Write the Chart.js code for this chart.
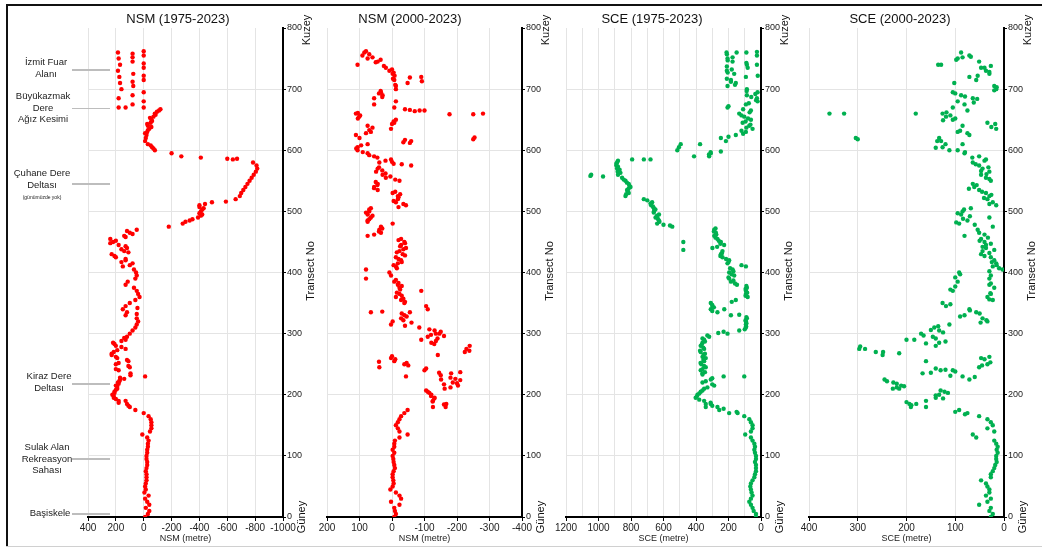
<!DOCTYPE html>
<html>
<head>
<meta charset="utf-8">
<script src="https://cdn.jsdelivr.net/npm/chart.js@4.4.0/dist/chart.umd.min.js"></script>
<style>
body { margin: 0; background: #fff; font-family: "Liberation Sans", Arial, sans-serif; }
#wrap { position: relative; width: 1042px; height: 548px; overflow: hidden; }
canvas { position: absolute; top: 0; }
.ttl { position: absolute; top: 11px; font-size: 13px; line-height: 15px; color: #111; transform: translateX(-50%); white-space: nowrap; }
.rot { position: absolute; font-size: 11px; color: #111; white-space: nowrap; transform: translate(-50%, -50%) rotate(-90deg); }
.note { position: absolute; width: 80px; text-align: center; font-size: 9.5px; line-height: 11.5px; color: #222; }
.small { font-size: 5px; line-height: 6px; }
.lead { position: absolute; left: 72px; width: 38px; height: 1.5px; background: #bdbdbd; }
.frame-top { position: absolute; left: 6px; top: 4px; width: 1040px; height: 2px; background: #111; }
.frame-left { position: absolute; left: 6px; top: 4px; width: 2px; height: 543px; background: #111; }
.frame-bottom { position: absolute; left: 6px; top: 546px; width: 1040px; height: 1px; background: #d0d0d0; }
</style>
</head>
<body>
<div id="wrap">
  <div class="frame-top"></div>
  <div class="frame-left"></div>
  <div class="frame-bottom"></div>

  <canvas id="c1" width="265" height="548" style="left:58px"></canvas>
  <canvas id="c2" width="265" height="548" style="left:297px"></canvas>
  <canvas id="c3" width="265" height="548" style="left:536px"></canvas>
  <canvas id="c4" width="265" height="548" style="left:779px"></canvas>

  <div class="ttl" style="left:178px">NSM (1975-2023)</div>
  <div class="ttl" style="left:410px">NSM (2000-2023)</div>
  <div class="ttl" style="left:652px">SCE (1975-2023)</div>
  <div class="ttl" style="left:900px">SCE (2000-2023)</div>

  <!-- sol taraftaki yer adları -->
  <div class="note" style="left:6px;top:56px">İzmit Fuar<br>Alanı</div>
  <div class="lead" style="top:69px"></div>
  <div class="note" style="left:3px;top:90px">Büyükazmak<br>Dere<br>Ağız Kesimi</div>
  <div class="lead" style="top:107.5px"></div>
  <div class="note" style="left:2px;top:167px">Çuhane Dere<br>Deltası<br><span class="small">(günümüzde yok)</span></div>
  <div class="lead" style="top:183px"></div>
  <div class="note" style="left:9px;top:370px">Kiraz Dere<br>Deltası</div>
  <div class="lead" style="top:383px"></div>
  <div class="note" style="left:7px;top:441px">Sulak Alan<br>Rekreasyon<br>Sahası</div>
  <div class="lead" style="top:458px"></div>
  <div class="note" style="left:10px;top:507px">Başiskele</div>
  <div class="lead" style="top:513px"></div>

  <div id="sideLabels"></div>
</div>

<script>
// transect numaraları (güneyden kuzeye)
var transects = [0,5,10,15,20,25,30,35,40,45,
  50,55,60,65,70,75,80,85,90,95,
  100,105,110,115,120,125,130,135,140,145,
  150,155,160,165,170,175,180,185,190,195,
  200,205,210,215,220,225,230,235,240,245,
  250,255,260,265,270,275,280,285,290,295,
  300,305,310,315,320,325,330,335,340,345,
  350,355,360,365,370,375,380,385,390,395,
  400,405,410,415,420,425,430,435,440,445,
  450,455,460,465,470,475,480,485,490,495,
  500,505,510,515,520,525,530,535,540,545,
  550,555,560,565,570,575,580,585,590,595,
  600,605,610,615,620,625,630,635,640,645,
  650,655,660,665,670,675,680,685,690,695,
  700,705,710,715,720,725,730,735,740,745,
  750,755,760];

// NSM 1975-2023 (metre)
var nsm1975 = [-10,-30,-40,-15,-40,-25,-10,-35,-5,-15,
  -10,-15,-20,-20,-20,-15,-20,-25,-25,-20,
  -20,-25,-25,-30,-30,-35,-25,10,-45,-55,
  -55,-55,-50,-35,0,60,100,120,180,215,
  225,210,190,200,185,170,-10,95,180,100,
  200,110,190,230,215,130,200,220,130,120,
  100,80,60,50,40,50,130,120,150,130,
  100,60,30,40,50,70,130,115,60,50,
  55,70,150,80,130,200,230,140,120,180,
  220,240,140,100,50,-180,-280,-330,-390,-420,
  -410,-430,-400,-490,-660,-690,-700,-715,-730,-745,
  -760,-775,-790,-805,-815,-810,-785,-640,-270,-200,
  -80,-60,-30,-10,-15,-20,-25,-40,-30,-50,
  -55,-70,-80,-110,130,80,0,180,80,0,
  160,75,170,0,175,75,185,0,170,80,
  180,0,185];

// NSM 2000-2023 (metre)
var nsm2000 = [-7,-12,-9,-7,-23,3,-28,-23,-12,5,
  -2,-5,-4,-2,-2,-5,-9,-7,-5,-4,
  -2,-7,-2,-7,-7,-9,-23,-48,-23,-18,
  -12,-18,-23,-28,-38,-48,-126,-167,-126,-131,
  -121,-110,-162,-203,-187,-151,-43,-182,-100,39,
  -38,-7,3,-141,-224,-229,-239,-121,-90,-110,
  -146,-131,-84,3,-2,-28,-38,65,-110,-105,
  -38,-28,-12,-23,-90,-23,-18,-7,80,3,
  8,80,-12,-18,-28,-12,-33,-23,-43,-28,
  -38,-28,75,34,39,34,-2,75,65,75,
  70,65,-43,-12,-18,-18,-2,44,55,44,
  -23,19,29,49,44,-59,39,3,55,75,
  106,106,75,-59,100,111,65,3,75,-7,
  -12,101,111,-100,-7,55,-12,55,29,34,
  -12,-12,-48,-7,-90,-2,8,19,106,44,
  75,91,85];

// SCE 1975-2023 (metre)
var sce1975 = [31,31,45,52,62,72,62,52,58,62,
  66,62,52,41,37,31,31,31,37,31,
  31,37,41,37,41,52,62,97,62,52,
  52,62,72,103,196,257,340,309,350,402,
  391,371,350,288,360,309,103,360,371,340,
  367,350,340,354,371,350,371,360,350,319,
  206,134,93,93,93,87,185,268,309,299,
  309,155,82,93,93,87,148,185,196,165,
  196,175,93,206,196,237,247,237,299,227,
  247,268,288,278,288,546,639,628,649,628,
  659,659,676,670,721,834,814,824,803,814,
  834,855,880,882,886,890,886,680,319,309,
  515,505,494,216,247,155,93,52,72,113,
  62,103,134,62,206,93,21,25,87,21,
  87,206,155,185,93,165,210,82,87,175,
  206,25,212];

// SCE 2000-2023 (metre)
var sce2000 = [27,23,30,27,51,34,27,37,30,30,
  34,37,47,27,27,23,20,18,15,16,
  16,13,15,13,16,20,57,64,20,34,
  23,27,34,51,75,92,191,194,160,140,
  133,122,228,211,227,71,85,167,105,51,
  34,160,47,249,263,297,140,133,184,146,
  170,133,143,112,34,44,81,57,71,119,
  126,23,34,27,105,20,30,95,30,27,
  92,3,23,16,20,27,47,44,37,37,
  40,47,81,51,54,23,92,75,30,88,
  85,68,16,23,34,30,37,51,61,64,
  27,37,47,30,44,51,64,37,51,81,
  112,126,85,129,133,71,95,16,85,34,
  105,119,126,75,105,81,95,64,88,105,
  16,20,102,57,71,30,37,47,129,51,
  95,71,88];

// ara ve ayrık noktalar [transect, değer]
var nsm1975Extra = [[670,180],[670,0],[712,80],[722,0],[742,0],[752,80],[758,80],[762,0],
  [586,-600],[586,-670],[588,-410],[516,-590],[228,170],[232,95],[332,50],[342,45],[187,180],[190,130],
  [182,110],[193,200],[198,215],[203,210],[208,200],[213,190],[218,180],[222,175],[226,140],
  [242,200],[247,110],[252,180],[257,120],[262,200],[267,230],[273,190],[278,160],[283,210],[288,160],[293,140],
  [412,100],[417,160],[422,130],[427,210],[433,110],[438,160],[443,130],[448,240],[452,200],[458,130],[463,80],[468,120],
  [483,-300],[487,-350],[493,-410],[497,-400],[503,-420],[507,-400],[512,-440],
  [603,-70],[608,-50],[628,-10],[633,-30],[638,-55],[643,-25],[648,-60],[653,-45],[658,-85],[663,-95],[667,-120]];

var nsm2000Extra = [[659,-177],[659,-250],[660,-280],[621,-254],[618,-250],[664,-70],[665,-85],
  [719,-55],[713,-92],[577,-30],[613,-35],[336,30],[335,-55],[296,-160],[300,-135],[237,-210],
  [232,-150],[226,-195],[272,-238],[243,-105],[254,40],[236,-145],[212,-180],
  [762,80],[757,70],[752,60],[748,35],[744,50],[738,25],[732,0],[727,-5],[722,-8],[717,-3],[707,-10],
  [697,35],[693,40],[687,30],[667,-40],[666,-55],[661,105],[657,98],[652,105],
  [647,-5],[643,0],[637,60],[633,70],[628,80],[617,-40],[612,-55],
  [608,95],[603,110],[597,90],[592,70],[588,45],
  [583,20],[581,0],[578,-5],[572,40],[567,30],[562,20],[557,5],[552,-10],
  [548,50],[543,45],[538,55],[532,-10],[528,-25],[523,-20],[517,-5],[512,-35],[507,-20],
  [503,70],[498,80],[493,60],[487,70],[483,75],[472,30],[467,40],[462,55],
  [453,-20],[448,-40],[443,-25],[438,-35],[433,-15],[428,-40],[422,-20],[417,-30],[412,-5],[407,-15],
  [388,-12],[383,-20],[378,-30],[372,-25],[367,-15],[362,-30],[357,-35],[352,-40],
  [333,-30],[328,-45],[322,-35],[318,-60],[313,-40],
  [307,-115],[303,-150],[298,-120],[292,-140],[288,-135],[283,-130],
  [263,0],[258,-10],[252,-45],[248,-50],[228,-180],[224,-210],[219,-200],[217,-160],
  [207,-105],[203,-115],[198,-120],[194,-130],[189,-125],[184,-160],[180,-165]];

var sce1975Extra = [[760,150],[760,90],[761,25],[740,25],[722,20],[610,375],[598,247],[590,412],
  [585,721],[585,793],[558,1050],[560,1045],[557,972],[450,478],[437,478],[340,226],[331,134],
  [301,263],[230,230],[180,268],[170,144],[185,340],[233,360],
  [757,210],[752,175],[747,205],[743,90],[737,210],[732,180],[727,205],[717,210],[712,185],[707,160],
  [697,88],[692,35],[687,60],[682,30],[677,75],[672,200],[667,110],[662,70],[657,120],[652,80],
  [647,95],[642,65],[637,90],[632,120],[627,110],[622,200],
  [597,310],[593,320],[583,880],[578,890],[573,880],[568,870],[563,865],[552,845],[547,825],[542,810],[537,815],
  [533,820],[528,830],[518,700],[513,680],[508,665],[503,650],[498,660],[493,640],[488,635],[483,625],[478,600],[477,560],
  [472,280],[467,290],[462,275],[457,280],[452,260],[447,250],[442,270],[432,240],[427,250],[422,215],
  [417,200],[412,120],[407,190],[402,170],[397,180],[392,200],[387,170],[382,160],
  [378,90],[373,95],[367,85],[362,95],[352,180],[347,300],[343,290],[337,300],[327,90],[322,95],
  [317,90],[312,92],[307,100],[303,230],
  [297,330],[292,360],[287,345],[282,365],[277,355],[272,375],[267,345],[262,360],[257,355],[252,372],
  [247,350],[242,360],[237,345],[227,300],[222,340],[217,300],[212,330],[207,360],[202,380],[197,395],
  [192,380],[187,310],[182,300],[177,230],[172,150]];

var sce2000Extra = [[660,358],[660,328],[660,181],[620,304],[618,300],[740,135],[275,285],[270,248],
  [222,240],[290,200],[185,180],[268,215],[279,295],[243,140],[238,100],[212,220],[240,130],
  [752,85],[748,98],[753,68],[735,40],[728,30],[722,54],[738,27],[703,15],[698,20],
  [693,100],[688,80],[684,55],[678,62],[662,118],[657,110],[652,100],[649,125],
  [643,18],[638,26],[632,90],[628,75],[615,137],[610,120],[604,140],[600,95],[597,80],
  [588,65],[583,40],[577,58],[572,32],[566,47],[561,36],[553,30],
  [543,56],[537,72],[532,45],[527,26],[522,41],[512,30],
  [503,82],[497,95],[492,70],[488,84],[482,98],[478,60],
  [462,40],[457,33],[452,50],[447,27],[442,44],[437,20],[432,30],[427,40],
  [417,25],[412,15],[407,10],[402,30],[397,90],[392,100],[382,27],
  [377,100],[372,110],[366,28],[356,30],[348,110],
  [338,70],[333,50],[328,90],[322,36],[318,48],
  [312,135],[306,150],[302,125],[297,165],[292,140],[287,120],[284,160],
  [262,30],[258,40],[253,28],[248,45],[241,120],[236,150],[231,110],[229,60],
  [225,245],[218,220],[214,205],[210,215],[207,130],[203,115],[199,140],[194,125],
  [188,200],[183,190],[180,160],[172,100],[168,80]];

var yTicks = [0,100,200,300,400,500,600,700,800];

var RED = '#ff0000';
var GREEN = '#00b050';
var GRID = '#e4e4e4';

Chart.defaults.font.family = '"Liberation Sans", Arial, sans-serif';

function toPoints(vals, extra) {
  var pts = transects.map(function (t, i) { return { x: vals[i], y: t }; });
  extra.forEach(function (p) { pts.push({ x: p[1], y: p[0] }); });
  return pts;
}

function makePanel(id, opt) {
  var ctx = document.getElementById(id).getContext('2d');
  var every = opt.labelEvery || opt.step;
  return new Chart(ctx, {
    type: 'scatter',
    data: {
      datasets: [{
        data: opt.points,
        backgroundColor: opt.color,
        borderColor: opt.color,
        borderWidth: 0,
        pointRadius: 2.2
      }]
    },
    options: {
      responsive: false,
      animation: false,
      events: [],
      layout: { padding: { left: 30, top: 28, right: 0, bottom: 4 } },
      plugins: { legend: { display: false }, tooltip: { enabled: false } },
      scales: {
        x: {
          type: 'linear',
          position: 'bottom',
          min: opt.min,
          max: opt.max,
          reverse: true,
          ticks: {
            stepSize: opt.step,
            autoSkip: false,
            maxRotation: 0,
            padding: 1,
            color: '#222',
            font: { size: 10 },
            callback: function (v) { return v % every === 0 ? String(v) : ''; }
          },
          grid: {
            color: GRID,
            tickLength: 4,
            tickColor: function (c) { return c.tick && c.tick.value % every === 0 ? '#000' : 'rgba(0,0,0,0)'; }
          },
          border: { color: '#000', width: 2 },
          title: { display: true, text: opt.xTitle, color: '#222', font: { size: 9 }, padding: 0 },
          afterFit: function (s) { s.height = 27; }
        },
        y: {
          type: 'linear',
          position: 'right',
          min: 0,
          max: 800,
          afterBuildTicks: function (s) { s.ticks = yTicks.map(function (v) { return { value: v }; }); },
          ticks: { padding: 1, color: '#222', font: { size: 9 } },
          grid: {
            color: function (c) { return c.tick && c.tick.value === 800 ? 'rgba(0,0,0,0)' : GRID; },
            tickColor: '#000',
            tickLength: 3
          },
          border: { color: '#000', width: 2 },
          afterFit: function (s) { s.width = 40; }
        }
      }
    }
  });
}

makePanel('c1', { points: toPoints(nsm1975, nsm1975Extra), color: RED, min: -1000, max: 400, step: 200, xTitle: 'NSM (metre)' });
makePanel('c2', { points: toPoints(nsm2000, nsm2000Extra), color: RED, min: -400, max: 200, step: 100, xTitle: 'NSM (metre)' });
makePanel('c3', { points: toPoints(sce1975, sce1975Extra), color: GREEN, min: 0, max: 1200, step: 100, labelEvery: 200, xTitle: 'SCE (metre)' });
makePanel('c4', { points: toPoints(sce2000, sce2000Extra), color: GREEN, min: 0, max: 400, step: 100, xTitle: 'SCE (metre)' });

// Kuzey / Transect No / Güney yazıları (sağ eksenlerin yanında)
var axisRight = [283, 522, 761, 1004];
var side = document.getElementById('sideLabels');
axisRight.forEach(function (r) {
  [['Kuzey', 23, 30], ['Transect No', 27, 271], ['Güney', 18, 517]].forEach(function (l) {
    var d = document.createElement('div');
    d.className = 'rot';
    d.textContent = l[0];
    d.style.left = (r + l[1]) + 'px';
    d.style.top = l[2] + 'px';
    side.appendChild(d);
  });
});
</script>
</body>
</html>
